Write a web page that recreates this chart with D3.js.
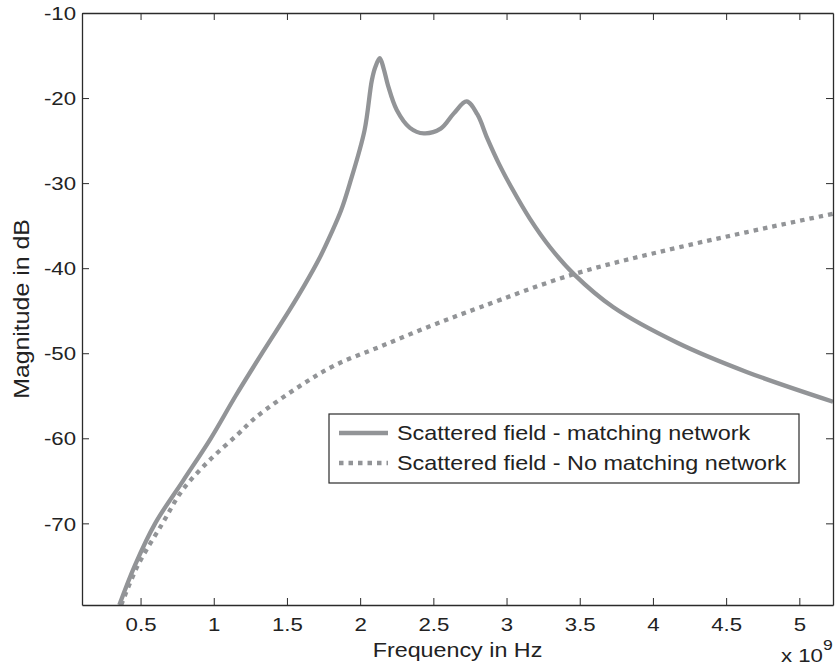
<!DOCTYPE html>
<html>
<head>
<meta charset="utf-8">
<script src="https://cdn.jsdelivr.net/npm/d3@7"></script>
<style>
  body { margin: 0; background: #fff; }
  svg { display: block; }
  text { font-family: "Liberation Sans", Arial, Helvetica, sans-serif; fill: #222; }
</style>
</head>
<body>
<svg id="chart" width="835" height="671"></svg>
<script>
// frequency in GHz (axis shows x 10^9), magnitude in dB
const freqMatched = [0.355, 0.46, 0.60, 0.79, 0.98, 1.15, 1.33, 1.515, 1.62, 1.72, 1.80, 1.87, 1.93, 2.03, 2.08, 2.105, 2.134, 2.16, 2.19, 2.25, 2.34, 2.435, 2.55, 2.64, 2.727, 2.80, 2.87, 2.95, 3.03, 3.16, 3.30, 3.46, 3.73, 4.17, 4.64, 5.23];
const magMatched  = [-79.6, -75, -70, -65, -60, -55, -50, -45, -42, -38.9, -36.0, -33.2, -30.0, -23.8, -17.9, -16.3, -15.3, -16.5, -18.5, -21.4, -23.5, -24.15, -23.6, -21.8, -20.4, -21.9, -24.8, -27.8, -30.4, -34.2, -37.6, -40.7, -44.6, -48.8, -52.2, -55.7];

const freqNoMatch = [0.368, 0.48, 0.65, 0.786, 0.97, 1.16, 1.29, 1.58, 1.83, 2.14, 2.48, 2.82, 3.46, 4.19, 5.23];
const magNoMatch  = [-79.6, -75, -70, -66.1, -62.6, -59.6, -57.5, -53.95, -51.4, -49.2, -46.8, -44.6, -40.7, -37.5, -33.6];

const xTicks = [0.5, 1, 1.5, 2, 2.5, 3, 3.5, 4, 4.5, 5];
const yTicks = [-70, -60, -50, -40, -30, -20, -10];
const legendLabels = ["Scattered field - matching network", "Scattered field - No matching network"];

const lineColor = "#929497";
const axisColor = "#2b2b2b";
const stretch = 1.17; // glyphs in the figure are wider than Arial

const svg = d3.select("#chart");
const box = { left: 82, right: 833, top: 13, bottom: 605 };

const x = d3.scaleLinear().domain([0.1, 5.23]).range([box.left, box.right]);
const y = d3.scaleLinear().domain([-79.6, -10]).range([box.bottom, box.top]);

svg.append("defs").append("clipPath").attr("id", "plotclip")
  .append("rect").attr("x", box.left).attr("y", box.top)
  .attr("width", box.right - box.left).attr("height", box.bottom - box.top);

const line = d3.line()
  .x(d => x(d[0]))
  .y(d => y(d[1]))
  .curve(d3.curveCatmullRom.alpha(0.5));

const matched = d3.zip(freqMatched, magMatched);
const noMatch = d3.zip(freqNoMatch, magNoMatch);

const plot = svg.append("g").attr("clip-path", "url(#plotclip)");

plot.append("path").datum(noMatch)
  .attr("d", line)
  .attr("fill", "none")
  .attr("stroke", lineColor)
  .attr("stroke-width", 4.3)
  .attr("stroke-dasharray", "4.5,5");

plot.append("path").datum(matched)
  .attr("d", line)
  .attr("fill", "none")
  .attr("stroke", lineColor)
  .attr("stroke-width", 4.3)
  .attr("stroke-linejoin", "round");

// axes, MATLAB style: inward ticks on all four sides
function styleAxis(g) {
  g.selectAll("path.domain").attr("stroke", axisColor).attr("stroke-width", 1.3);
  g.selectAll(".tick line").attr("stroke", axisColor).attr("stroke-width", 1);
}

const plain = d => String(d); // hyphen minus, like the original

const xBottom = svg.append("g").attr("transform", `translate(0,${box.bottom})`)
  .call(d3.axisBottom(x).tickValues(xTicks).tickSizeInner(-7).tickSizeOuter(0).tickFormat(plain));
xBottom.call(styleAxis);
xBottom.selectAll(".tick text")
  .attr("font-size", 19)
  .attr("y", 0).attr("dy", 0)
  .attr("transform", `translate(0,26) scale(${stretch},1)`);

const xTop = svg.append("g").attr("transform", `translate(0,${box.top})`)
  .call(d3.axisTop(x).tickValues(xTicks).tickSizeInner(-7).tickSizeOuter(0).tickFormat(""));
xTop.call(styleAxis);

const yLeft = svg.append("g").attr("transform", `translate(${box.left},0)`)
  .call(d3.axisLeft(y).tickValues(yTicks).tickSizeInner(-7).tickSizeOuter(0).tickFormat(plain));
yLeft.call(styleAxis);
yLeft.selectAll(".tick text")
  .attr("font-size", 19)
  .attr("x", 0).attr("dy", "0.35em")
  .attr("transform", `translate(-6,0) scale(${stretch},1)`);

const yRight = svg.append("g").attr("transform", `translate(${box.right},0)`)
  .call(d3.axisRight(y).tickValues(yTicks).tickSizeInner(-7).tickSizeOuter(0).tickFormat(""));
yRight.call(styleAxis);

svg.selectAll(".tick text").attr("fill", "#222");

// axis labels
svg.append("text")
  .attr("transform", `translate(${(box.left + box.right) / 2},657) scale(1.11,1)`)
  .attr("text-anchor", "middle")
  .attr("font-size", 21)
  .text("Frequency in Hz");

svg.append("text")
  .attr("transform", `translate(29,${(box.top + box.bottom) / 2}) rotate(-90) scale(1.13,1)`)
  .attr("text-anchor", "middle")
  .attr("font-size", 22)
  .text("Magnitude in dB");

const expo = svg.append("text")
  .attr("transform", `translate(781,662) scale(${stretch},1)`)
  .attr("font-size", 19);
expo.append("tspan").text("x 10");
expo.append("tspan").attr("dy", -12).attr("font-size", 15).text("9");

// legend
const legend = svg.append("g").attr("transform", "translate(329,414)");
legend.append("rect")
  .attr("width", 470).attr("height", 69)
  .attr("fill", "#fff").attr("stroke", axisColor).attr("stroke-width", 1.2);

const legendItems = legend.selectAll("g.item")
  .data(legendLabels)
  .enter().append("g")
    .attr("class", "item")
    .attr("transform", (d, i) => `translate(0,${19 + i * 30})`);

legendItems.append("line")
  .attr("x1", 10).attr("x2", 59)
  .attr("stroke", lineColor)
  .attr("stroke-width", 4.3)
  .attr("stroke-dasharray", (d, i) => i === 0 ? null : "4.5,5");

legendItems.append("text")
  .attr("transform", `translate(68,0) scale(1.14,1)`)
  .attr("dy", "0.35em")
  .attr("font-size", 20.5)
  .text(d => d);
</script>
</body>
</html>
